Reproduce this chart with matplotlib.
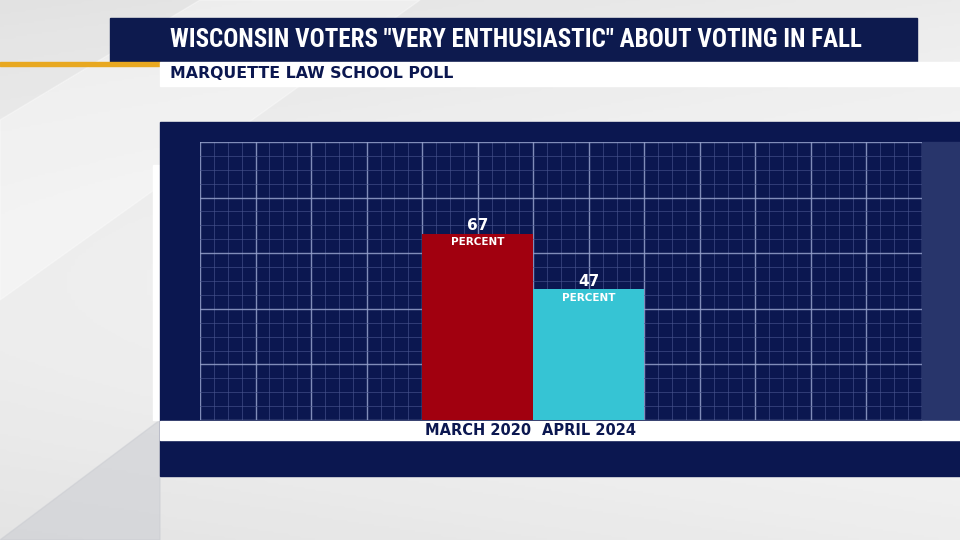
import numpy as np
import matplotlib.pyplot as plt
from matplotlib.patches import Rectangle, Polygon
from matplotlib import font_manager

# ============================
# Data
# ============================
categories = ["MARCH 2020", "APRIL 2024"]
values = [67, 47]
bar_colors = ["#a1000f", "#36c4d4"]
title = 'WISCONSIN VOTERS "VERY ENTHUSIASTIC" ABOUT VOTING IN FALL'
subtitle = "MARQUETTE LAW SCHOOL POLL"

NAVY = "#0b1750"

# pick a narrow font if one is around, else condensed DejaVu
names = {f.name for f in font_manager.fontManager.ttflist}
narrow = None
for cand in ["Roboto Condensed", "Liberation Sans Narrow", "Open Sans Condensed"]:
    if cand in names:
        narrow = cand
        break
if narrow is None:
    title_font = dict(family="DejaVu Sans", fontstretch="condensed", fontsize=16.5)
else:
    title_font = dict(family=narrow, fontsize=18)

fig = plt.figure(figsize=(9.6, 5.4), dpi=100)

# ============================
# Background (pixel coordinates)
# ============================
bg = fig.add_axes([0, 0, 1, 1])
bg.set_xlim(0, 960)
bg.set_ylim(540, 0)
bg.axis("off")
grad = np.linspace(0, 1, 256)
img = 0.80 + 0.12 * np.add.outer(np.sin(grad * 3.0) * 0.5, grad * 0.4)
bg.imshow(img, cmap="Greys_r", vmin=0, vmax=1, extent=[0, 960, 540, 0], aspect="auto", zorder=0)
bg.add_patch(Polygon([[0, 120], [200, 0], [420, 0], [0, 300]], color="white", alpha=0.35, zorder=1))
bg.add_patch(Polygon([[0, 540], [160, 420], [160, 540]], color="#c8cad0", alpha=0.5, zorder=1))

# Header
bg.add_patch(Rectangle((110, 18), 807, 44, color="#0d1a4e", zorder=2))
bg.add_patch(Rectangle((0, 62), 160, 4, color="#e8a820", zorder=2))
bg.add_patch(Rectangle((160, 62), 800, 24, color="white", zorder=2))
bg.text(170, 40, title, color="white", fontweight="bold",
        va="center", ha="left", zorder=3, **title_font)
bg.text(170, 74, subtitle, color=NAVY, fontsize=11.3, fontweight="bold",
        va="center", ha="left", zorder=3)

# Chart panel
bg.add_patch(Rectangle((153, 165), 8, 255, color="white", zorder=2))
bg.add_patch(Rectangle((160, 122), 800, 354, color=NAVY, zorder=2))
bg.add_patch(Rectangle((922, 142), 38, 278, color="#28356b", zorder=3))
bg.add_patch(Rectangle((160, 421), 800, 19, color="white", zorder=3))

# ============================
# Bar chart
# ============================
ax = fig.add_axes([200 / 960, 120 / 540, 722 / 960, 278 / 540])
ax.set_facecolor(NAVY)
ax.set_xlim(0, 13)
ax.set_ylim(0, 100)
ax.set_xticks(np.arange(0, 14, 1))
ax.set_xticks(np.arange(0, 13.01, 0.25), minor=True)
ax.set_yticks(np.arange(0, 101, 20))
ax.set_yticks(np.arange(0, 101, 5), minor=True)
ax.grid(which="major", color="#95a1cc", linewidth=1.0, alpha=0.85)
ax.grid(which="minor", color="#4a5690", linewidth=0.6, alpha=0.7)
ax.tick_params(which="both", length=0, labelbottom=False, labelleft=False)
for s in ax.spines.values():
    s.set_visible(False)
ax.set_axisbelow(True)

# each bar covers two grid columns
x = np.array([5.0, 7.0])
ax.bar(x, values, width=2.0, color=bar_colors, zorder=3)
for xi, v, cat in zip(x, values, categories):
    ax.text(xi, v + 0.2, str(v), color="white", fontsize=11, fontweight="bold",
            ha="center", va="bottom", zorder=4)
    ax.text(xi, v - 1.3, "PERCENT", color="white", fontsize=7.5, fontweight="bold",
            ha="center", va="top", zorder=4)
    ax.text(xi, -3.9, cat, color=NAVY, fontsize=10.5, fontweight="bold",
            ha="center", va="center", zorder=4, clip_on=False)

fig.savefig("out.png", dpi=100)
